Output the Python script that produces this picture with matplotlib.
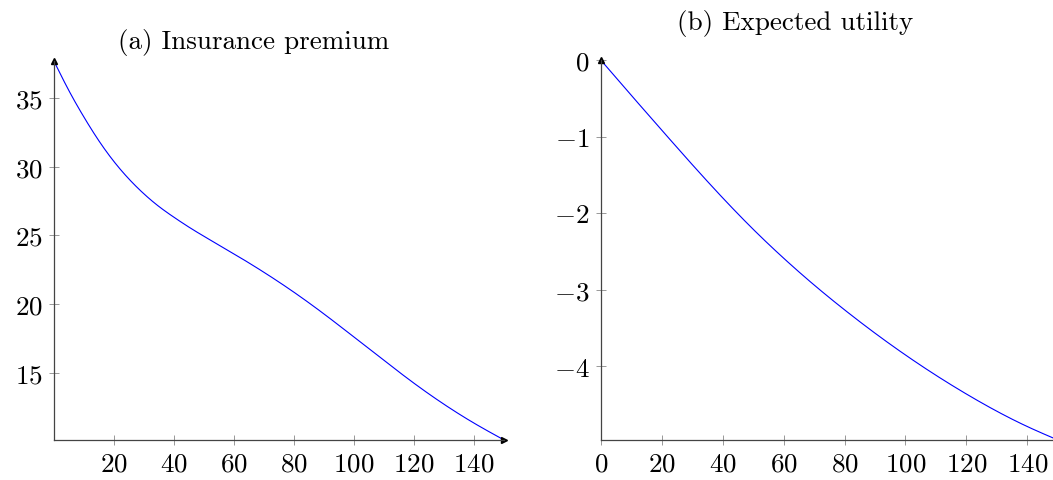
import numpy as np
import matplotlib
matplotlib.use("Agg")
import matplotlib.pyplot as plt

# -------------------------
# DATA
# -------------------------
x_premium = [0, 5, 10, 15, 20, 25, 30, 35, 40, 45, 50, 60, 70, 80, 90,
             100, 110, 120, 130, 140, 150]
premium = [37.67, 35.52, 33.6, 31.87, 30.37, 29.1, 28.02, 27.1, 26.32, 25.6,
           24.935, 23.655, 22.315, 20.865, 19.285, 17.605, 15.905, 14.245,
           12.715, 11.345, 10.12]

x_utility = [0, 10, 20, 30, 40, 50, 60, 70, 80, 90, 100, 110, 120, 130, 140, 150]
utility = [0.0, -0.46, -0.915, -1.365, -1.80, -2.21, -2.588, -2.938, -3.263,
           -3.568, -3.853, -4.118, -4.363, -4.588, -4.788, -4.963]

xticks_a = [20, 40, 60, 80, 100, 120, 140]
yticks_a = [15, 20, 25, 30, 35]
xticks_b = [0, 20, 40, 60, 80, 100, 120, 140]
yticks_b = [-4, -3, -2, -1, 0]

title_a = "(a) Insurance premium"
title_b = "(b) Expected utility"

# -------------------------
# STYLE
# -------------------------
plt.rcParams['font.family'] = 'serif'
plt.rcParams['font.serif'] = ['cmr10']
plt.rcParams['mathtext.fontset'] = 'cm'
plt.rcParams['axes.formatter.use_mathtext'] = True
fs = 19.5

fig = plt.figure(figsize=(10.53, 4.81), dpi=100)

ax_a = fig.add_axes([0.0513, 0.0832, 0.4274, 0.7873])
ax_b = fig.add_axes([0.5705, 0.0832, 0.4341, 0.7900])


def smooth(xs, ys):
    # natural cubic spline through the read points (pgfplots "smooth")
    xs = np.asarray(xs, float)
    ys = np.asarray(ys, float)
    xx = np.linspace(xs[0], xs[-1], 600)
    n = len(xs)
    h = np.diff(xs)
    A = np.zeros((n, n))
    b = np.zeros(n)
    A[0, 0] = A[-1, -1] = 1
    for i in range(1, n - 1):
        A[i, i - 1] = h[i - 1]
        A[i, i] = 2 * (h[i - 1] + h[i])
        A[i, i + 1] = h[i]
        b[i] = 3 * ((ys[i + 1] - ys[i]) / h[i] - (ys[i] - ys[i - 1]) / h[i - 1])
    c = np.linalg.solve(A, b)
    idx = np.clip(np.searchsorted(xs, xx) - 1, 0, n - 2)
    dx = xx - xs[idx]
    bb = (ys[idx + 1] - ys[idx]) / h[idx] - h[idx] * (2 * c[idx] + c[idx + 1]) / 3
    d = (c[idx + 1] - c[idx]) / (3 * h[idx])
    return xx, ys[idx] + bb * dx + c[idx] * dx ** 2 + d * dx ** 3


for ax, xs, ys, xt, yt in [(ax_a, x_premium, premium, xticks_a, yticks_a),
                           (ax_b, x_utility, utility, xticks_b, yticks_b)]:
    xx, yy = smooth(xs, ys)
    ax.plot(xx, yy, color='blue', linewidth=0.8, clip_on=False)
    ax.set_xlim(min(xs), max(xs))
    ax.set_ylim(min(ys), max(ys))
    ax.set_xticks(xt)
    ax.set_yticks(yt)
    for s in ['top', 'right']:
        ax.spines[s].set_visible(False)
    for s in ['left', 'bottom']:
        ax.spines[s].set_color('#444444')
        ax.spines[s].set_linewidth(0.9)
    ax.tick_params(direction='inout', length=6.5, width=0.6, color='#888888',
                   pad=5, labelsize=fs)
    # arrow heads at the axis ends
    ax.plot(1, 0, '>', color='black', markersize=4, transform=ax.transAxes,
            clip_on=False)
    ax.plot(0, 1, '^', color='black', markersize=4, transform=ax.transAxes,
            clip_on=False)

fig.text(254 / 1053, 1 - 42.5 / 481, title_a, ha='center', va='center', fontsize=fs)
fig.text(795 / 1053, 1 - 23.8 / 481, title_b, ha='center', va='center', fontsize=fs)

fig.savefig("out.png", dpi=100)
